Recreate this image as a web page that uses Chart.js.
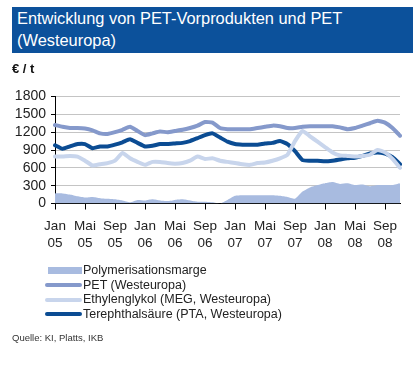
<!DOCTYPE html>
<html>
<head>
<meta charset="utf-8">
<script src="https://cdn.jsdelivr.net/npm/chart.js@4"></script>
<style>
  body { margin: 0; width: 420px; height: 365px; position: relative; background: #fff;
         font-family: "Liberation Sans", Arial, sans-serif; overflow: hidden; }
  #title { position: absolute; left: 12px; top: 7px; width: 396px; height: 46px; padding-left: 5px;
           background: #0c519b; color: #fff; font-size: 16.4px; line-height: 22px; }
  #unit { position: absolute; left: 12px; top: 61px; font-size: 13px; font-weight: bold; color: #111; }
  #chartBox { position: absolute; left: 0; top: 0; width: 420px; height: 365px; }
  #legend { position: absolute; left: 45px; top: 263px; font-size: 12.5px; color: #222; }
  .item { height: 14.6px; line-height: 14.6px; white-space: nowrap; position: relative; }
  .mark { display: inline-block; width: 37px; vertical-align: middle; margin-right: 1px; }
  #source { position: absolute; left: 12px; top: 332px; font-size: 9.5px; color: #333; }
</style>
</head>
<body>
<div id="chartBox"><canvas id="petChart" width="420" height="365"></canvas></div>
<div id="title">Entwicklung von PET-Vorprodukten und PET<br>(Westeuropa)</div>
<div id="unit">€ / t</div>
<div id="legend"></div>
<div id="source">Quelle: KI, Platts, IKB</div>

<script>
// Monthly values Jan 05 .. Nov 08
const months = ['Jan 05','Feb 05','Mar 05','Apr 05','Mai 05','Jun 05','Jul 05','Aug 05','Sep 05','Okt 05','Nov 05','Dez 05',
                'Jan 06','Feb 06','Mar 06','Apr 06','Mai 06','Jun 06','Jul 06','Aug 06','Sep 06','Okt 06','Nov 06','Dez 06',
                'Jan 07','Feb 07','Mar 07','Apr 07','Mai 07','Jun 07','Jul 07','Aug 07','Sep 07','Okt 07','Nov 07','Dez 07',
                'Jan 08','Feb 08','Mar 08','Apr 08','Mai 08','Jun 08','Jul 08','Aug 08','Sep 08','Okt 08','Nov 08'];

const marge = [170, 170, 150, 120, 100, 110, 90, 80, 70, 50, 20, 60,
               50, 70, 50, 40, 60, 70, 50, 30, 30, 20, 0, 60,
               130, 140, 140, 140, 140, 140, 130, 110, 80, 200, 270, 310,
               340, 360, 330, 340, 310, 320, 290, 310, 310, 310, 340];
const pet = [1320, 1290, 1270, 1270, 1260, 1230, 1180, 1170, 1200, 1240, 1290, 1220,
             1150, 1180, 1210, 1200, 1220, 1240, 1270, 1310, 1370, 1360, 1270, 1250,
             1250, 1250, 1250, 1270, 1290, 1310, 1300, 1270, 1270, 1290, 1300, 1300,
             1300, 1300, 1280, 1250, 1270, 1310, 1350, 1390, 1360, 1270, 1140];
const meg = [790, 790, 800, 790, 720, 640, 660, 680, 720, 850, 760, 700,
             650, 700, 700, 680, 670, 680, 720, 790, 750, 760, 720, 700,
             680, 660, 650, 680, 690, 720, 760, 820, 1050, 1220, 1130, 1040,
             950, 860, 810, 800, 790, 800, 820, 900, 860, 750, 600];
const pta = [980, 920, 960, 1000, 1000, 930, 960, 960, 990, 1030, 1080, 1020,
             960, 970, 1000, 1000, 1010, 1020, 1050, 1100, 1150, 1180, 1110, 1040,
             1000, 990, 990, 990, 1010, 1020, 1050, 1000, 880, 730, 720, 720,
             710, 720, 740, 760, 770, 800, 840, 860, 840, 780, 660];

const yTicks = [0, 300, 600, 900, 1200, 1500, 1800];

const seriesNames = ['Polymerisationsmarge', 'PET (Westeuropa)', 'Ethylenglykol (MEG, Westeuropa)', 'Terephthalsäure (PTA, Westeuropa)'];
const seriesColors = ['#a8bbe0', '#8599cb', '#c8d5ec', '#0b4c93'];

const ctx = document.getElementById('petChart').getContext('2d');
Chart.defaults.font.family = '"Liberation Sans", Arial, sans-serif';

const lineOpts = { fill: false, pointRadius: 0, borderWidth: 4, tension: 0.15,
                   borderJoinStyle: 'round', borderCapStyle: 'round' };

const chart = new Chart(ctx, {
    type: 'line',
    data: {
        labels: months,
        datasets: [
            { label: seriesNames[0], data: marge, fill: 'origin', backgroundColor: seriesColors[0],
              borderWidth: 0, pointRadius: 0, tension: 0.15, order: 4 },
            Object.assign({ label: seriesNames[1], data: pet, borderColor: seriesColors[1], order: 3 }, lineOpts),
            Object.assign({ label: seriesNames[2], data: meg, borderColor: seriesColors[2], order: 1 }, lineOpts),
            Object.assign({ label: seriesNames[3], data: pta, borderColor: seriesColors[3], order: 2 }, lineOpts)
        ]
    },
    options: {
        responsive: false,
        animation: false,
        layout: { padding: { top: 96.5, right: 20, left: 0, bottom: 0 } },
        plugins: { legend: { display: false }, tooltip: { enabled: false } },
        scales: {
            x: {
                offset: false,
                afterFit: s => { s.height = 365 - 203.5; },
                border: { display: true, color: '#000', width: 1 },
                grid: { drawOnChartArea: false, tickLength: 6,
                        tickColor: c => (c.index % 4 === 0 ? '#000' : 'rgba(0,0,0,0)') },
                ticks: {
                    autoSkip: false, maxRotation: 0, padding: 9, color: '#222',
                    font: { size: 13.5 },
                    callback: (v, i) => (i % 4 === 0 ? months[i].split(' ') : '')
                }
            },
            y: {
                min: 0, max: 1800,
                afterFit: s => { s.width = 55; },
                afterBuildTicks: s => { s.ticks = yTicks.map(v => ({ value: v })); },
                border: { display: true, color: '#000', width: 1 },
                grid: { color: '#c4c4c4', tickColor: '#000', tickLength: 4 },
                ticks: { autoSkip: false, color: '#222', font: { size: 14 }, padding: 5,
                         callback: v => String(v) }
            }
        }
    }
});

// HTML legend built from the datasets, stacked like the original
const legend = document.getElementById('legend');
chart.data.datasets.forEach((ds, i) => {
    const row = document.createElement('div');
    row.className = 'item';
    const mark = document.createElement('span');
    mark.className = 'mark';
    if (i === 0) {
        mark.style.height = '7px';
        mark.style.marginLeft = '3px';
        mark.style.width = '34px';
        mark.style.background = seriesColors[0];
    } else {
        mark.style.height = '4px';
        mark.style.borderRadius = '2px';
        mark.style.background = ds.borderColor;
    }
    row.appendChild(mark);
    row.appendChild(document.createTextNode(ds.label));
    legend.appendChild(row);
});
</script>
</body>
</html>
